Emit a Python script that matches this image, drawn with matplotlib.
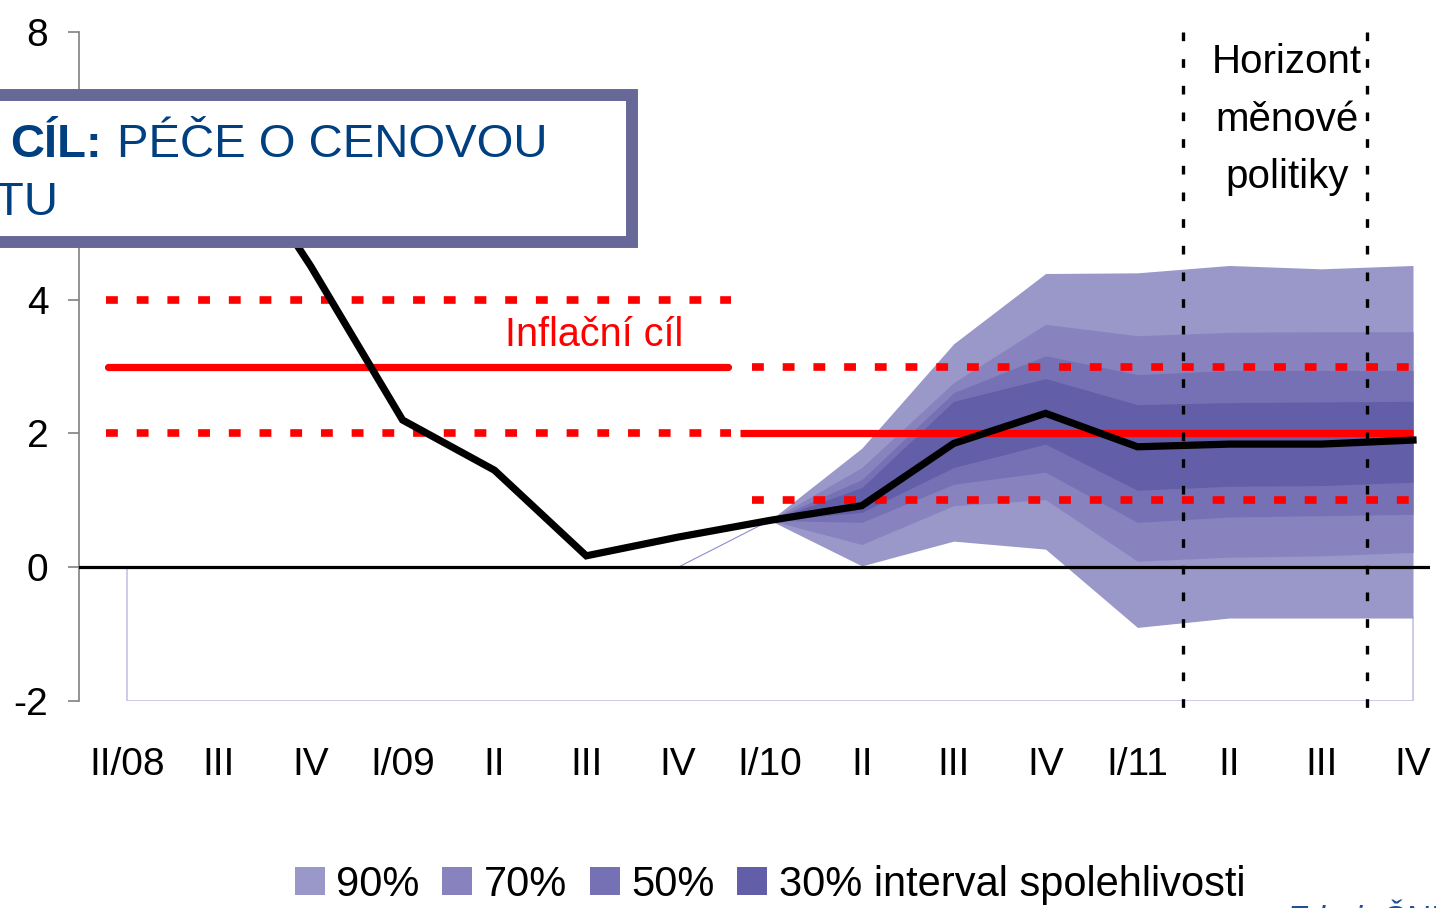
import matplotlib
matplotlib.use('Agg')
import matplotlib.pyplot as plt
from matplotlib.patches import Rectangle, Patch
import numpy as np

plt.rcParams['font.family'] = ['Liberation Sans', 'DejaVu Sans']

# ---------------- data ----------------
quarters = ['II/08', 'III', 'IV', 'I/09', 'II', 'III', 'IV', 'I/10',
            'II', 'III', 'IV', 'I/11', 'II', 'III', 'IV']
inflation = [6.8, 6.6, 4.5, 2.2, 1.45, 0.17, 0.45, 0.7,
             0.92, 1.85, 2.3, 1.8, 1.84, 1.84, 1.9]

fan_start = 7  # I/10
lo90 = [0.7, 0.02, 0.39, 0.27, -0.90, -0.76, -0.76, -0.76]
lo70 = [0.7, 0.34, 0.92, 1.01, 0.09, 0.15, 0.17, 0.22]
lo50 = [0.7, 0.67, 1.24, 1.42, 0.67, 0.75, 0.77, 0.79]
lo30 = [0.7, 0.82, 1.49, 1.84, 1.15, 1.21, 1.22, 1.27]
hi30 = [0.7, 1.19, 2.48, 2.82, 2.43, 2.46, 2.47, 2.48]
hi50 = [0.7, 1.31, 2.61, 3.16, 2.88, 2.94, 2.94, 2.94]
hi70 = [0.7, 1.49, 2.76, 3.63, 3.46, 3.51, 3.52, 3.52]
hi90 = [0.7, 1.78, 3.34, 4.39, 4.40, 4.51, 4.46, 4.51]

band_labels = ['90%', '70%', '50%', '30% interval spolehlivosti']
band_colors = ['#9A97C9', '#8883BF', '#7671B4', '#625EA8']

old_target = 3.0
old_band = [2.0, 4.0]
old_span = [-0.234, 6.58]
new_target = 2.0
new_band = [1.0, 3.0]
new_target_span = [6.67, 14.0]
new_band_span = [6.8, 14.0]

horizon = [11.5, 13.5]
yticks = [-2, 0, 2, 4, 6, 8]
ytick_labels = ['-2', '0', '2', '4', '', '8']  # "6" is hidden behind the goal box

# ---------------- figure ----------------
W, H = 1436, 908
fig = plt.figure(figsize=(W / 100, H / 100), dpi=100)
ax = fig.add_axes([79 / W, 207 / H, (1430 - 79) / W, (876 - 207) / H])
ax.set_xlim(-0.5225, 14.185)
ax.set_ylim(-2, 8)

x = np.arange(len(quarters))
xf = x[fan_start:]

# fan chart (nested bands)
for lo, hi, c in zip([lo90, lo70, lo50, lo30], [hi90, hi70, hi50, hi30], band_colors):
    ax.fill_between(xf, lo, hi, color=c, lw=0, zorder=1)

# thin outline of the invisible base area series
ax.plot([x[0], x[0], x[-1], x[-1]], [0, yticks[0], yticks[0], lo90[-1]],
        color='#C4C4E6', lw=1.2, zorder=0.5)
ax.plot([x[fan_start - 1], x[fan_start]], [0, lo90[0]],
        color='#8C8CD6', lw=0.8, zorder=0.5)

# zero line
ax.axhline(0, color='black', lw=2.3, zorder=3)

# inflation targets
red = '#FF0000'
dot = dict(color=red, lw=5.5, dashes=(1.55, 2.47), dash_capstyle='butt', zorder=4)
ax.plot([old_span[0] + 0.03, old_span[1] - 0.04], [old_target] * 2, color=red, lw=5.2,
        solid_capstyle='round', zorder=4)
for v in old_band:
    ax.plot(old_span, [v] * 2, **dot)
ax.plot(new_target_span, [new_target] * 2, color=red, lw=5.2, solid_capstyle='butt', zorder=4)
for v in new_band:
    ax.plot(new_band_span, [v] * 2, **dot)

# inflation line
ax.plot(x, inflation, color='black', lw=5.2, solid_joinstyle='miter', zorder=5)

# policy horizon
for h in horizon:
    ax.plot([h, h], [8, -2.26], color='black', lw=2.4, dashes=(2.6, 5.4),
            dash_capstyle='butt', clip_on=False, zorder=6)

ax.text(12.63, 6.69, 'Horizont\nměnové\npolitiky', ha='center', va='center',
        fontsize=29, linespacing=1.66, zorder=7)
ax.text(5.09, 3.47, 'Inflační cíl', color=red, ha='center', va='center',
        fontsize=28.5, zorder=7)

# axes styling
for s in ['top', 'right', 'bottom']:
    ax.spines[s].set_visible(False)
ax.spines['left'].set_color('#808080')
ax.spines['left'].set_linewidth(1.2)
ax.set_yticks(yticks)
ax.set_yticklabels(ytick_labels)
ax.set_xticks(x)
ax.set_xticklabels(quarters)
ax.tick_params(axis='y', length=8, width=1.2, color='#808080', pad=14, labelsize=28)
ax.tick_params(axis='x', length=0, pad=33, labelsize=28)

# goal box
rect = Rectangle((-20 / W, 1 - 242 / H), (632 + 20) / W, (242 - 95) / H,
                 transform=fig.transFigure, facecolor='white', edgecolor='#686898',
                 lw=8.6, zorder=10)
fig.add_artist(rect)
blue = '#003F80'
fig.text(10 / W, 1 - 157 / H, 'CÍL:', fontsize=34, fontweight='bold', color=blue,
         va='baseline', ha='left', zorder=11)
fig.text(117 / W, 1 - 157 / H, 'PÉČE O CENOVOU', fontsize=34, color=blue,
         va='baseline', ha='left', zorder=11)
fig.text(58 / W, 1 - 215 / H, 'TU', fontsize=34, color=blue,
         va='baseline', ha='right', zorder=11)

# legend
handles = [Patch(facecolor=c, edgecolor='none', label=l) for c, l in zip(band_colors, band_labels)]
fig.legend(handles=handles, loc='center', bbox_to_anchor=(770 / W, 1 - 885 / H), ncol=4,
           frameon=False, fontsize=30, handlelength=0.72, handleheight=0.66,
           handletextpad=0.27, columnspacing=0.55, borderpad=0, borderaxespad=0)

fig.text(1287 / W, 1 - 899 / H, 'Zdroj: ČNB', fontsize=24, style='italic',
         color='#1F4E9A', va='top', ha='left')

fig.savefig('out.png', dpi=100)
